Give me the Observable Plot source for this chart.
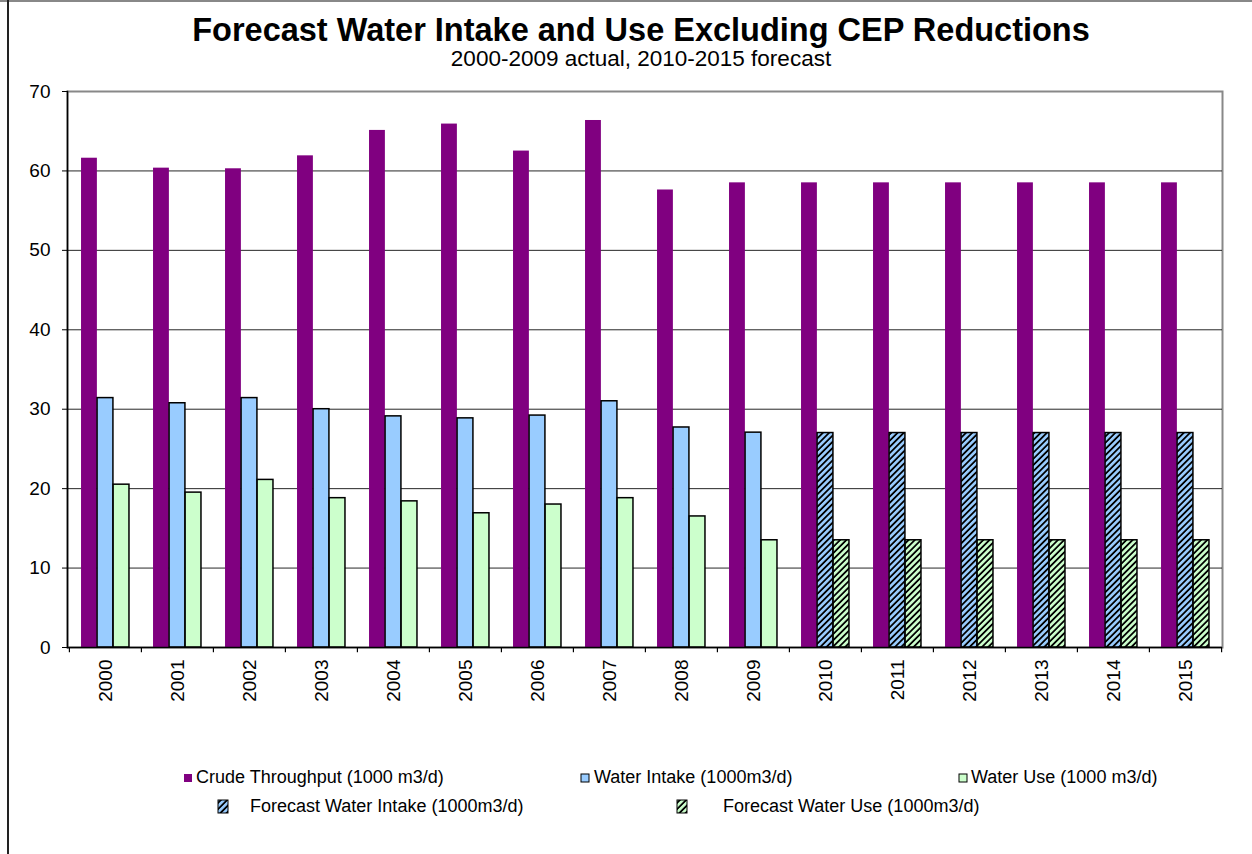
<!DOCTYPE html>
<html><head><meta charset="utf-8">
<script src="https://cdn.jsdelivr.net/npm/d3@7"></script>
<script src="https://cdn.jsdelivr.net/npm/@observablehq/plot@0.6"></script>
<style>
body{margin:0;background:#fff;font-family:"Liberation Sans",Arial,sans-serif;}
#wrap{position:relative;width:1252px;height:854px;overflow:hidden;background:#fff;}
#topline{position:absolute;left:0;top:0;width:1252px;height:2px;background:#888;}
#leftline{position:absolute;left:7px;top:0;width:1.5px;height:854px;background:#222;}
#title{position:absolute;left:641px;top:11px;transform:translateX(-50%);white-space:nowrap;font-weight:bold;font-size:32.5px;line-height:38px;color:#000;}
#subtitle{position:absolute;left:641px;top:46px;transform:translateX(-50%);white-space:nowrap;font-size:22.5px;line-height:26px;color:#000;}
#chart{position:absolute;left:0;top:0;}
.leg{position:absolute;white-space:nowrap;font-size:18px;line-height:20px;color:#000;}
.sw{position:absolute;}
</style></head><body>
<div id="wrap">
  <div id="topline"></div>
  <div id="leftline"></div>
  <div id="chart"></div>
  <div id="title">Forecast Water Intake and Use Excluding CEP Reductions</div>
  <div id="subtitle">2000-2009 actual, 2010-2015 forecast</div>
  <div id="legend"></div>
</div>
<script>
// ---- data ----
const years = ["2000","2001","2002","2003","2004","2005","2006","2007","2008","2009","2010","2011","2012","2013","2014","2015"];
const crudeThroughput = [61.6, 60.35, 60.27, 61.9, 65.1, 65.9, 62.5, 66.35, 57.6, 58.5, 58.5, 58.5, 58.5, 58.5, 58.5, 58.5];
const actualYears = ["2000","2001","2002","2003","2004","2005","2006","2007","2008","2009"];
const waterIntake = [31.4, 30.75, 31.4, 30.0, 29.1, 28.85, 29.2, 31.0, 27.7, 27.05];
const waterUse = [20.5, 19.5, 21.1, 18.8, 18.4, 16.9, 18.0, 18.8, 16.5, 13.5];
const forecastYears = ["2010","2011","2012","2013","2014","2015"];
const forecastIntake = [27.0, 27.0, 27.0, 27.0, 27.0, 27.0];
const forecastUse = [13.5, 13.5, 13.5, 13.5, 13.5, 13.5];
const yTicks = [0, 10, 20, 30, 40, 50, 60, 70];
const seriesNames = ["Crude Throughput (1000 m3/d)", "Water Intake (1000m3/d)", "Water Use (1000 m3/d)", "Forecast Water Intake (1000m3/d)", "Forecast Water Use (1000m3/d)"];

const crudeData = years.map((y, i) => ({year: y, value: crudeThroughput[i]}));
const intakeData = actualYears.map((y, i) => ({year: y, value: waterIntake[i]}));
const useData = actualYears.map((y, i) => ({year: y, value: waterUse[i]}));
const fIntakeData = forecastYears.map((y, i) => ({year: y, value: forecastIntake[i]}));
const fUseData = forecastYears.map((y, i) => ({year: y, value: forecastUse[i]}));

// ---- layout ----
const W = 1252, H = 720;
const mL = 67, mR = 30, mT = 91, mB = H - 647;
const bw = (W - mL - mR) / years.length;
const barW = bw / 4.5;
const off = 0.75 * barW;
const slot = i => ({insetLeft: off + i * barW, insetRight: bw - off - (i + 1) * barW});

const purple = "#800080", blue = "#99CCFF", green = "#CCFFCC";

const svg = Plot.plot({
  width: W, height: H,
  marginLeft: mL, marginRight: mR, marginTop: mT, marginBottom: mB,
  style: {fontFamily: "Liberation Sans, Arial, sans-serif", fontSize: "19px", color: "#000", background: "transparent", overflow: "visible"},
  x: {type: "band", domain: years, padding: 0, label: null},
  y: {domain: [0, 70], label: null},
  marks: [
    Plot.frame({stroke: "#888", strokeWidth: 2}),
    Plot.gridY(yTicks.slice(1, -1), {stroke: "#000", strokeOpacity: 0.85, strokeWidth: 1}),
    Plot.barY(crudeData, {x: "year", y: "value", fill: purple, ...slot(0)}),
    Plot.barY(intakeData, {x: "year", y: "value", fill: blue, stroke: "#000", strokeWidth: 1.5, ...slot(1)}),
    Plot.barY(useData, {x: "year", y: "value", fill: green, stroke: "#000", strokeWidth: 1.5, ...slot(2)}),
    Plot.barY(fIntakeData, {x: "year", y: "value", fill: "url(#hatchBlue)", stroke: "#000", strokeWidth: 1.5, ...slot(1)}),
    Plot.barY(fUseData, {x: "year", y: "value", fill: "url(#hatchGreen)", stroke: "#000", strokeWidth: 1.5, ...slot(2)}),
    Plot.ruleX(years, {x: d => d, y1: 0, y2: -0.66, dx: -bw / 2, stroke: "#000", strokeWidth: 1.2}),
    Plot.ruleX(years.slice(-1), {x: d => d, y1: 0, y2: -0.66, dx: bw / 2, stroke: "#000", strokeWidth: 1.2}),
    Plot.ruleY([0], {stroke: "#000", strokeWidth: 1.5}),
    Plot.frame({anchor: "left", stroke: "#000", strokeWidth: 1.5}),
    Plot.axisY({ticks: yTicks, tickSize: 5, tickPadding: 12, fontSize: 19, label: null}),
    Plot.axisX({tickSize: 0, tickRotate: -90, tickPadding: 12, fontSize: 19, label: null})
  ]
});

function addPatterns(sel) {
  const defs = sel.insert("defs", ":first-child");
  [["hatchBlue", blue], ["hatchGreen", green]].forEach(([id, c]) => {
    const p = defs.append("pattern").attr("id", id).attr("patternUnits", "userSpaceOnUse")
      .attr("width", 4.4).attr("height", 4.4).attr("patternTransform", "rotate(45)");
    p.append("rect").attr("width", 4.4).attr("height", 4.4).attr("fill", "#000");
    p.append("rect").attr("width", 2.6).attr("height", 4.4).attr("fill", c);
  });
}
addPatterns(d3.select(svg));
document.getElementById("chart").appendChild(svg);

// ---- legend ----
const legend = d3.select("#legend");
const items = [
  {name: seriesNames[0], sx: 183, sy: 773, w: 8, h: 8, fill: purple, stroke: "none", tx: 196, ty: 767},
  {name: seriesNames[1], sx: 580, sy: 773, w: 8, h: 8, fill: blue, stroke: "#000", tx: 594, ty: 767},
  {name: seriesNames[2], sx: 958, sy: 773, w: 8, h: 8, fill: green, stroke: "#000", tx: 971, ty: 767},
  {name: seriesNames[3], sx: 217, sy: 799, w: 10, h: 13, fill: "url(#hatchBlue)", stroke: "#000", tx: 250, ty: 796},
  {name: seriesNames[4], sx: 676, sy: 799, w: 10, h: 13, fill: "url(#hatchGreen)", stroke: "#000", tx: 723, ty: 796}
];
items.forEach(it => {
  const s = legend.append("svg").attr("class", "sw").style("left", it.sx + "px").style("top", it.sy + "px")
    .attr("width", it.w + 2).attr("height", it.h + 2);
  s.append("rect").attr("x", 1).attr("y", 1).attr("width", it.w).attr("height", it.h)
    .attr("fill", it.fill).attr("stroke", it.stroke).attr("stroke-width", 1);
  legend.append("div").attr("class", "leg").style("left", it.tx + "px").style("top", it.ty + "px").text(it.name);
});
</script>
</body></html>
